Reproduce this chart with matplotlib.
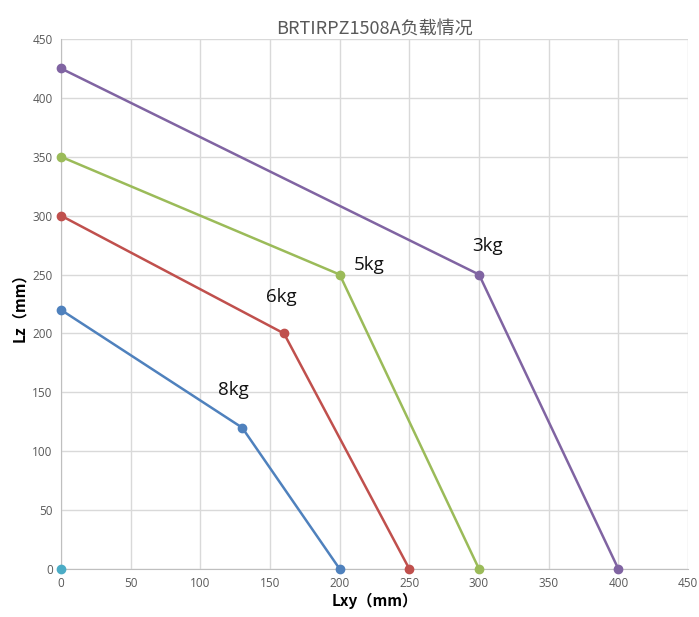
import matplotlib
matplotlib.use("Agg")
import matplotlib.pyplot as plt

plt.rcParams["font.family"] = ["Open Sans", "Noto Sans CJK SC", "DejaVu Sans"]

TITLE = "BRTIRPZ1508A负载情况"
LOADS = ["8kg", "6kg", "5kg", "3kg"]
LXY = [
    [0, 130, 200],
    [0, 160, 250],
    [0, 200, 300],
    [0, 300, 400],
]
LZ = [
    [220, 120, 0],
    [300, 200, 0],
    [350, 250, 0],
    [425, 250, 0],
]
COLORS = ["#4F81BD", "#C0504D", "#9BBB59", "#8064A2"]
# label anchor (data coords) next to the knee of each curve
LABEL_POS = [(124, 152), (158, 231), (221, 258), (306, 274)]
ORIGIN_X = [0]
ORIGIN_Y = [0]

fig = plt.figure(figsize=(6.99, 6.17), dpi=100)
ax = fig.add_axes([0.0873, 0.0778, 0.897, 0.859])

for xs, ys, color, load, pos in zip(LXY, LZ, COLORS, LOADS, LABEL_POS):
    ax.plot(xs, ys, color=color, lw=1.8, marker="o", ms=6, clip_on=False, zorder=3)
    ax.text(pos[0], pos[1], load, fontsize=13.5, ha="center", va="center", color="#111111")
ax.plot(ORIGIN_X, ORIGIN_Y, "o", color="#4BACC6", ms=6, clip_on=False, zorder=4)

ax.set_xlim(0, 450)
ax.set_ylim(0, 450)
ax.set_xticks(range(0, 451, 50))
ax.set_yticks(range(0, 451, 50))
ax.grid(True, color="#D9D9D9", lw=1)
ax.set_axisbelow(True)
for side in ("top", "right"):
    ax.spines[side].set_visible(False)
for side in ("left", "bottom"):
    ax.spines[side].set_color("#BFBFBF")
ax.tick_params(length=0, labelsize=8.5, labelcolor="#595959", pad=6)

ax.set_title(TITLE, fontsize=13, color="#595959", pad=4,
             family=["Noto Sans CJK SC", "DejaVu Sans"])
ax.set_xlabel("Lxy（mm）", fontsize=11, fontweight="bold",
              family=["Noto Sans CJK SC", "DejaVu Sans"], labelpad=2)
ax.set_ylabel("Lz（mm）", fontsize=11, fontweight="bold",
              family=["Noto Sans CJK SC", "DejaVu Sans"], labelpad=4)

fig.savefig("out.png", dpi=100, facecolor="white")
